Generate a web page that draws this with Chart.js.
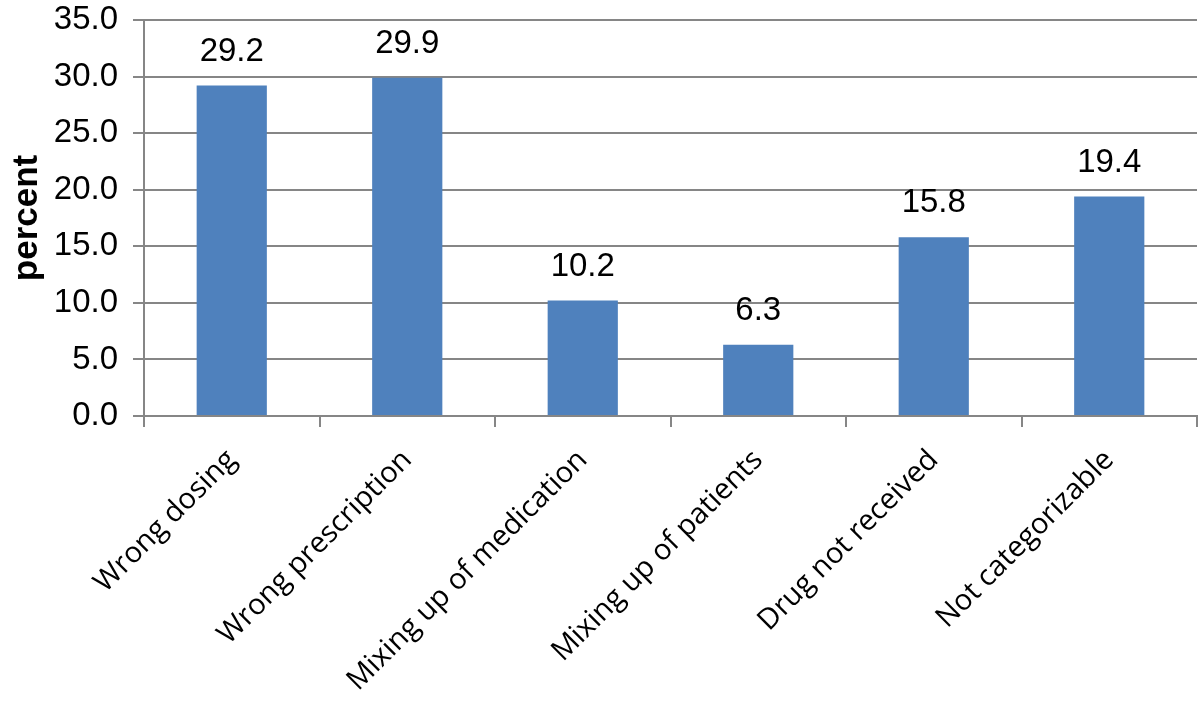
<!DOCTYPE html>
<html lang="en">
<head>
    <meta charset="UTF-8">
    <title>Medication errors by type</title>
    <script src="https://cdn.jsdelivr.net/npm/chart.js@4.4.0/dist/chart.umd.min.js"></script>
    <style>
        html, body { margin: 0; padding: 0; background: #fff; }
        #wrap { width: 1200px; height: 704px; }
    </style>
</head>
<body>
    <div id="wrap"><canvas id="chart" width="1200" height="704"></canvas></div>
    <script type="text/javascript">
        const categories = ["Wrong dosing", "Wrong prescription", "Mixing up of medication", "Mixing up of patients", "Drug not received", "Not categorizable"];
        const percentValues = [29.2, 29.9, 10.2, 6.3, 15.8, 19.4];
        const valueLabels = ["29.2", "29.9", "10.2", "6.3", "15.8", "19.4"];

        const gridGray = "#868686";

        // numbers above the bars
        const barValuePlugin = {
            id: "barValues",
            afterDatasetsDraw(chart) {
                const ctx = chart.ctx;
                const meta = chart.getDatasetMeta(0);
                ctx.save();
                ctx.fillStyle = "#000";
                ctx.font = "33px 'Liberation Sans', Arial, sans-serif";
                ctx.textAlign = "center";
                ctx.textBaseline = "alphabetic";
                meta.data.forEach((bar, i) => {
                    ctx.fillText(valueLabels[i], bar.x, bar.y - 25);
                });
                ctx.restore();
            }
        };

        new Chart("chart", {
            type: "bar",
            data: {
                labels: categories,
                datasets: [{
                    data: percentValues,
                    backgroundColor: "#4F81BD",
                    categoryPercentage: 0.4,
                    barPercentage: 1.0
                }]
            },
            options: {
                responsive: false,
                animation: false,
                layout: { padding: { top: 20, right: 3, left: 0, bottom: 0 } },
                plugins: {
                    legend: { display: false },
                    tooltip: { enabled: false }
                },
                scales: {
                    x: {
                        grid: {
                            offset: true,
                            drawOnChartArea: false,
                            drawTicks: true,
                            tickLength: 11,
                            color: gridGray,
                            lineWidth: 2
                        },
                        border: { color: gridGray, width: 2 },
                        ticks: {
                            color: "#000",
                            font: { family: "'Open Sans'", size: 29 },
                            minRotation: 45,
                            maxRotation: 45,
                            padding: 16,
                            autoSkip: false
                        },
                        afterFit(scale) { scale.height = 288; }
                    },
                    y: {
                        min: 0,
                        max: 35,
                        ticks: {
                            stepSize: 5,
                            color: "#000",
                            font: { family: "'Liberation Sans'", size: 33 },
                            padding: 15,
                            callback: (v) => v.toFixed(1)
                        },
                        grid: {
                            color: gridGray,
                            lineWidth: 2,
                            tickLength: 11
                        },
                        border: { color: gridGray, width: 2 },
                        title: {
                            display: true,
                            text: "percent",
                            color: "#000",
                            font: { family: "'Liberation Sans'", size: 35, weight: "bold" },
                            padding: { top: 6, bottom: 0 }
                        },
                        afterFit(scale) {
                            scale.width = 144;
                            scale.paddingTop = 0;
                            scale.paddingBottom = 0;
                        }
                    }
                }
            },
            plugins: [barValuePlugin]
        });
    </script>
</body>
</html>
